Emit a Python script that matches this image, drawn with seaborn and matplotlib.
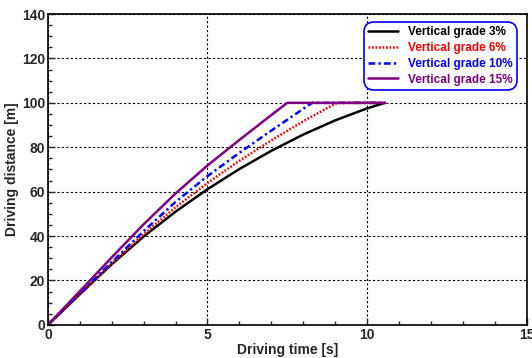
import numpy as np
import pandas as pd
import matplotlib
matplotlib.use("Agg")
import matplotlib.pyplot as plt
from matplotlib.ticker import MultipleLocator
import seaborn as sns

# data (time [s], distance [m])
t_3 = [0, 1, 2, 3, 4, 5, 6, 7, 8, 9, 10, 10.56]
d_3 = [0, 13.8, 27.3, 39.8, 51, 61.1, 70.2, 78.4, 85.7, 92.1, 97.5, 100]

t_6 = [0, 1, 2, 3, 4, 5, 6, 7, 8, 9, 9.1, 10.56]
d_6 = [0, 13.8, 27.5, 40.8, 53, 63.9, 73.9, 83.1, 91.7, 99.6, 100, 100]

t_10 = [0, 1, 2, 3, 4, 5, 6, 7, 8, 8.28, 10.56]
d_10 = [0, 14.2, 28.3, 42.2, 55.4, 67, 77.5, 87.5, 97.3, 100, 100]

t_15 = [0, 1, 2, 3, 4, 5, 6, 7, 7.5, 10.56]
d_15 = [0, 15.2, 30.4, 45.3, 59.2, 71.8, 83.3, 94.5, 100, 100]

labels = ["Vertical grade 3%", "Vertical grade 6%", "Vertical grade 10%", "Vertical grade 15%"]
colors = ["black", "red", "blue", "purple"]

frames = []
for lab, t, d in zip(labels, [t_3, t_6, t_10, t_15], [d_3, d_6, d_10, d_15]):
    frames.append(pd.DataFrame({"time": t, "dist": d, "grade": lab}))
df = pd.concat(frames, ignore_index=True)

sns.set_style("ticks")
plt.rcParams["font.family"] = ["Liberation Sans", "DejaVu Sans"]
plt.rcParams["font.weight"] = "bold"

fig = plt.figure(figsize=(5.32, 3.58), dpi=100)
ax = fig.add_axes([0.0902, 0.0927, 0.8995, 0.868])

sns.lineplot(data=df, x="time", y="dist", hue="grade", style="grade",
             palette=dict(zip(labels, colors)),
             dashes={labels[0]: "", labels[1]: (0.7, 0.7), labels[2]: (2.7, 1.3, 0.9, 1.3), labels[3]: ""},
             linewidth=1.8, sort=False, estimator=None, ax=ax)

ax.set_xlim(0, 15)
ax.set_ylim(0, 140)
ax.xaxis.set_major_locator(MultipleLocator(5))
ax.xaxis.set_minor_locator(MultipleLocator(1))
ax.yaxis.set_major_locator(MultipleLocator(20))
ax.yaxis.set_minor_locator(MultipleLocator(5))
ax.tick_params(which="major", direction="in", length=5, width=1, labelsize=10, pad=2)
ax.tick_params(which="minor", direction="in", length=3, width=1)
for lbl in ax.get_xticklabels() + ax.get_yticklabels():
    lbl.set_fontweight("bold")
ax.grid(True, which="major", color="black", linestyle=(0, (2, 2)), linewidth=0.8)
for s in ax.spines.values():
    s.set_linewidth(1.2)
    s.set_color("black")

ax.set_xlabel("Driving time [s]", fontsize=10, fontweight="bold", labelpad=1)
ax.set_ylabel("Driving distance [m]", fontsize=10, fontweight="bold", labelpad=2)

leg = ax.legend(loc="upper right", bbox_to_anchor=(0.98, 0.974), fontsize=8.5,
                frameon=True, fancybox=True, edgecolor="blue", framealpha=1,
                handlelength=2.5, handletextpad=0.9, borderpad=0.35, labelspacing=0.32,
                borderaxespad=0)
leg.get_frame().set_linewidth(1.2)
leg.get_frame().set_boxstyle("round", pad=0, rounding_size=0.85)
for txt, c in zip(leg.get_texts(), colors):
    txt.set_color(c)
    txt.set_fontweight("bold")

fig.savefig("out.png", dpi=100)
